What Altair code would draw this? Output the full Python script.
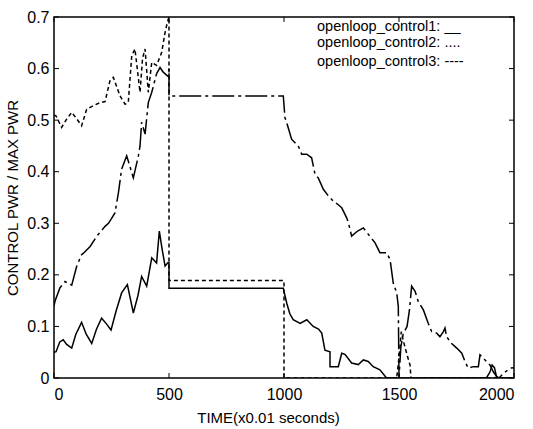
import altair as alt
import pandas as pd

# ---- data ----
t1 = [0, 9, 25, 40, 55, 77, 95, 120, 140, 164, 185, 207, 228, 248, 270, 294, 319, 345, 365, 381,
      403, 425, 446, 458, 470, 483, 496, 500, 500, 997, 1004, 1012, 1025, 1040, 1070, 1099, 1127,
      1150, 1164, 1178, 1200, 1200, 1236, 1251, 1265, 1294, 1323, 1345, 1366, 1388, 1417, 1446,
      1880, 1896, 1905, 1915, 1925, 2000]
v1 = [0.05, 0.051, 0.07, 0.074, 0.065, 0.058, 0.085, 0.108, 0.085, 0.067, 0.095, 0.116, 0.105,
      0.093, 0.13, 0.165, 0.181, 0.126, 0.16, 0.197, 0.178, 0.233, 0.223, 0.285, 0.25, 0.217,
      0.224, 0.224, 0.174, 0.174, 0.16, 0.145, 0.125, 0.113, 0.106, 0.113, 0.1, 0.095, 0.087,
      0.054, 0.051, 0.022, 0.022, 0.048, 0.046, 0.029, 0.026, 0.035, 0.032, 0.022, 0.016, 0.0,
      0.0, 0.012, 0.025, 0.02, 0.0, 0.0]

t2 = [0, 9, 33, 55, 77, 100, 120, 142, 171, 200, 222, 243, 258, 287, 309, 323, 338, 352, 362,
      374, 385, 396, 410, 425, 446, 468, 483, 493, 500, 500, 1000, 1000, 1490, 1500, 1510, 1520,
      1535, 1548, 1552, 2000]
v2 = [0.51, 0.508, 0.486, 0.502, 0.515, 0.502, 0.489, 0.521, 0.528, 0.534, 0.536, 0.576, 0.583,
      0.547, 0.531, 0.534, 0.625, 0.638, 0.6, 0.554, 0.62, 0.638, 0.554, 0.612, 0.606, 0.631,
      0.67, 0.69, 0.7, 0.189, 0.189, 0.0, 0.0, 0.04, 0.09, 0.07, 0.045, 0.025, 0.0, 0.0]

t3 = [0, 5, 26, 48, 77, 99, 120, 128, 157, 186, 222, 237, 265, 280, 294, 316, 345, 367, 374, 381,
      396, 410, 425, 446, 461, 475, 493, 500, 500, 997, 1004, 1012, 1033, 1062, 1077, 1099, 1120,
      1135, 1149, 1171, 1193, 1214, 1236, 1251, 1272, 1280, 1294, 1320, 1345, 1366, 1396, 1417,
      1446, 1461, 1475, 1490, 1497, 1500, 1508, 1518, 1535, 1545, 1555, 1570, 1584, 1606, 1627,
      1642, 1664, 1678, 1693, 1700, 1707, 1729, 1751, 1773, 1787, 1801, 1823, 1845, 1852, 1874,
      1896, 1910, 1925, 1935, 1954, 1983, 2000]
v3 = [0.14, 0.15, 0.175, 0.187, 0.18, 0.217, 0.239, 0.242, 0.255, 0.275, 0.294, 0.3, 0.32, 0.359,
      0.405, 0.431, 0.388, 0.431, 0.45, 0.496, 0.473, 0.534, 0.554, 0.59, 0.602, 0.593, 0.586,
      0.6, 0.547, 0.547, 0.505, 0.495, 0.463, 0.45, 0.434, 0.434, 0.427, 0.395, 0.388, 0.366,
      0.353, 0.343, 0.336, 0.33, 0.311, 0.301, 0.275, 0.285, 0.291, 0.279, 0.262, 0.243, 0.243,
      0.23, 0.184, 0.165, 0.139, 0.0, 0.06, 0.085, 0.1, 0.13, 0.178, 0.168, 0.148, 0.132, 0.106,
      0.09, 0.087, 0.08, 0.09, 0.097, 0.08, 0.067, 0.058, 0.048, 0.032, 0.019, 0.022, 0.022,
      0.045, 0.035, 0.025, 0.012, 0.003, 0.0, 0.009, 0.019, 0.02]

x_ticks = [0, 500, 1000, 1500, 2000]
y_ticks = [0, 0.1, 0.2, 0.3, 0.4, 0.5, 0.6, 0.7]
legend_labels = ["openloop_control1: __", "openloop_control2: ....", "openloop_control3: ----"]

W, H = 460, 361
FONT = "Liberation Sans"
X_TITLE = "TIME(x0.01 seconds)"
Y_TITLE = "CONTROL PWR / MAX PWR"

xs = alt.Scale(domain=[0, 2000], nice=False)
ys = alt.Scale(domain=[0, 0.7], nice=False)


def df(t, v):
    return pd.DataFrame({"t": t, "v": v, "i": list(range(len(t)))})


x_axis = alt.Axis(values=x_ticks, tickSize=0, domain=False, grid=False, labelFontSize=16,
                  labelPadding=8, labelFont=FONT, titleFont=FONT, titleFontSize=15,
                  titleFontWeight="normal", titlePadding=8, titleX=214, labelColor="black",
                  titleColor="black", format="d")
y_axis = alt.Axis(values=y_ticks, tickSize=0, domain=False, grid=False, labelFontSize=16,
                  labelPadding=5, labelFont=FONT, titleFont=FONT, titleFontSize=15,
                  titleFontWeight="normal", titlePadding=6, labelColor="black",
                  titleColor="black", format=".1~f")

X = alt.X("t:Q", scale=xs, axis=x_axis, title=X_TITLE)
Y = alt.Y("v:Q", scale=ys, axis=y_axis, title=Y_TITLE)


def line(t, v, dash=None):
    kw = dict(color="black", strokeWidth=1.5, clip=True)
    if dash:
        kw["strokeDash"] = dash
    return alt.Chart(df(t, v)).mark_line(**kw).encode(x=X, y=Y, order="i:Q")


l1 = line(t1, v1)
l2 = line(t2, v2, dash=[4, 3])
l3 = line(t3, v3, dash=[22, 4, 3, 4])

xt = pd.DataFrame({"t": x_ticks})
yt = pd.DataFrame({"v": y_ticks})
tick_bottom = alt.Chart(xt).mark_rule(color="black", strokeWidth=1).encode(
    x=X, y=alt.value(H), y2=alt.value(H - 5))
tick_top = alt.Chart(xt).mark_rule(color="black", strokeWidth=1).encode(
    x=X, y=alt.value(0), y2=alt.value(5))
tick_left = alt.Chart(yt).mark_rule(color="black", strokeWidth=1).encode(
    y=Y, x=alt.value(0), x2=alt.value(5))
tick_right = alt.Chart(yt).mark_rule(color="black", strokeWidth=1).encode(
    y=Y, x=alt.value(W), x2=alt.value(W - 5))

leg_y = [10, 26, 45]
legend = [
    alt.Chart(pd.DataFrame({"lab": [lab]})).mark_text(
        align="left", baseline="middle", font=FONT, fontSize=14.5, color="black").encode(
        text="lab:N", x=alt.value(263), y=alt.value(yy))
    for lab, yy in zip(legend_labels, leg_y)
]

chart = alt.layer(l1, l2, l3, tick_bottom, tick_top, tick_left, tick_right, *legend).properties(
    width=W, height=H,
    autosize=alt.AutoSizeParams(type="none"),
    padding={"left": 54, "top": 17, "right": 19, "bottom": 51},
).configure(background="white", view=alt.ViewConfig(stroke="black", strokeWidth=1.5))

chart.save("out.html", embed_options={"renderer": "svg", "actions": False})
